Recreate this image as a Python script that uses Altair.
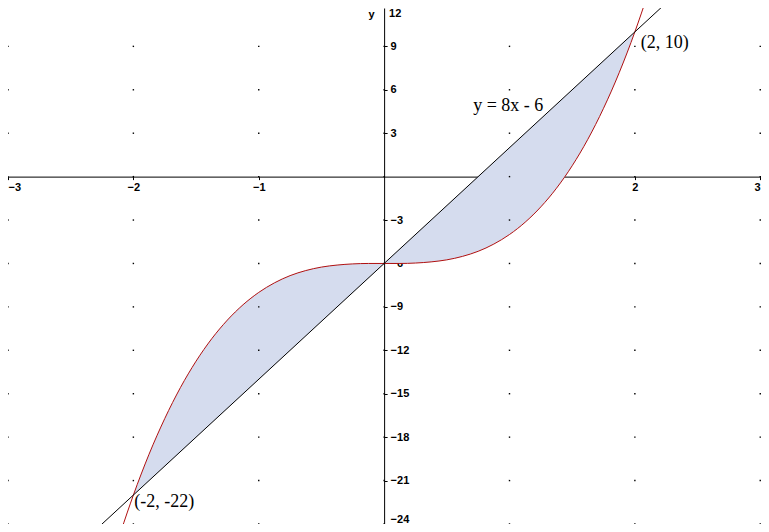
import altair as alt
import pandas as pd

# ---- data ----
curve_x = [-2.1, -2.0, -1.875, -1.75, -1.625, -1.5, -1.375, -1.25, -1.125, -1.0,
           -0.875, -0.75, -0.625, -0.5, -0.375, -0.25, -0.125, 0.0,
           0.125, 0.25, 0.375, 0.5, 0.625, 0.75, 0.875, 1.0,
           1.125, 1.25, 1.375, 1.5, 1.625, 1.75, 1.875, 2.0, 2.1]
curve_y = [-24.52, -22.0, -19.18, -16.72, -14.58, -12.75, -11.2, -9.91, -8.85, -8.0,
           -7.34, -6.84, -6.49, -6.25, -6.11, -6.03, -6.0, -6.0,
           -6.0, -5.97, -5.89, -5.75, -5.51, -5.16, -4.66, -4.0,
           -3.15, -2.09, -0.8, 0.75, 2.58, 4.72, 7.18, 10.0, 12.52]
line_x = [-2.3, 2.3]
line_y = [-24.4, 12.4]
area_x = curve_x[1:-1]
area_curve = curve_y[1:-1]
area_line = [-22.0, -21.0, -20.0, -19.0, -18.0, -17.0, -16.0, -15.0, -14.0, -13.0,
             -12.0, -11.0, -10.0, -9.0, -8.0, -7.0, -6.0,
             -5.0, -4.0, -3.0, -2.0, -1.0, 0.0, 1.0, 2.0,
             3.0, 4.0, 5.0, 6.0, 7.0, 8.0, 9.0, 10.0]
x_ticks = [-3, -2, -1, 1, 2, 3]
y_ticks = [-24, -21, -18, -15, -12, -9, -6, -3, 3, 6, 9, 12]
grid_x = [-3, -2, -1, 0, 1, 2, 3]
grid_y = [-24, -21, -18, -15, -12, -9, -6, -3, 0, 3, 6, 9, 12]
labels_text = ["(2, 10)", "(-2, -22)", "y = 8x - 6"]
labels_x = [2.0, -2.0, 0.71]
labels_y = [10.0, -22.0, 4.87]

W, H = 753, 516
XDOM = [-3.0, 3.006]
YDOM = [-24.0, 11.65]

xs = alt.Scale(domain=XDOM, nice=False, zero=False)
ys = alt.Scale(domain=YDOM, nice=False, zero=False)

# axis positions (through the origin)
x0_px = (0 - XDOM[0]) / (XDOM[1] - XDOM[0]) * W
y0_px = (YDOM[1] - 0) / (YDOM[1] - YDOM[0]) * H

label_expr = "datum.value == 0 ? '' : replace('' + datum.value, '-', '\u2212')"

x_axis = alt.Axis(orient="bottom", offset=-(H - y0_px), values=x_ticks, title=None,
                  grid=False, domainColor="black", tickColor="black", tickSize=3,
                  labelColor="black", labelFont="Liberation Sans", labelFontWeight="bold",
                  labelFontSize=11, labelPadding=2, labelExpr=label_expr,
                  labelFlush=2, labelOverlap=False)
y_axis = alt.Axis(orient="right", offset=-(W - x0_px), values=y_ticks, title=None,
                  grid=False, domainColor="black", tickColor="black", tickSize=3,
                  labelColor="black", labelFont="Liberation Sans", labelFontWeight="bold",
                  labelFontSize=11, labelPadding=3, labelExpr=label_expr,
                  labelFlush=2, labelOverlap=False, labelAlign="left")

area_df = pd.DataFrame({"x": area_x, "lo": area_curve, "hi": area_line})
curve_df = pd.DataFrame({"x": curve_x, "y": curve_y})
line_df = pd.DataFrame({"x": line_x, "y": line_y})
grid_df = pd.DataFrame([{"x": gx, "y": gy} for gx in grid_x for gy in grid_y])
lab_df = pd.DataFrame({"x": labels_x, "y": labels_y, "t": labels_text})

area = alt.Chart(area_df).mark_area(color="#d5dcee", opacity=1, interpolate="monotone", clip=True).encode(
    x=alt.X("x:Q", scale=xs, axis=x_axis),
    y=alt.Y("lo:Q", scale=ys, axis=y_axis),
    y2="hi:Q",
)

grid = alt.Chart(grid_df).mark_square(size=2, color="black", opacity=1, clip=True).encode(
    x=alt.X("x:Q", scale=xs), y=alt.Y("y:Q", scale=ys)
)

curve = alt.Chart(curve_df).mark_line(color="#b01010", strokeWidth=1, interpolate="monotone", clip=True).encode(
    x=alt.X("x:Q", scale=xs), y=alt.Y("y:Q", scale=ys)
)

line = alt.Chart(line_df).mark_line(color="black", strokeWidth=1, clip=True).encode(
    x=alt.X("x:Q", scale=xs), y=alt.Y("y:Q", scale=ys)
)

lab1 = alt.Chart(lab_df.iloc[[0]]).mark_text(
    font="Liberation Serif", fontSize=18, align="left", baseline="middle", dx=6, dy=11, color="black"
).encode(x=alt.X("x:Q", scale=xs), y=alt.Y("y:Q", scale=ys), text="t:N")

lab2 = alt.Chart(lab_df.iloc[[1]]).mark_text(
    font="Liberation Serif", fontSize=18, align="left", baseline="middle", dx=1, dy=7, color="black"
).encode(x=alt.X("x:Q", scale=xs), y=alt.Y("y:Q", scale=ys), text="t:N")

lab3 = alt.Chart(lab_df.iloc[[2]]).mark_text(
    font="Liberation Serif", fontSize=18, align="left", baseline="middle", color="black"
).encode(x=alt.X("x:Q", scale=xs), y=alt.Y("y:Q", scale=ys), text="t:N")

# axis name "y" and the top tick label "12", which sits at the upper edge
top_df = pd.DataFrame({"x": [-0.1, 0.0], "y": [11.65, 11.65], "t": ["y", "12"],
                       "a": ["center", "left"]})
ylab = alt.Chart(top_df.iloc[[0]]).mark_text(
    font="Liberation Sans", fontWeight="bold", fontSize=11, align="center", baseline="top", dy=1, color="black"
).encode(x=alt.X("x:Q", scale=xs), y=alt.Y("y:Q", scale=ys), text="t:N")
lab12 = alt.Chart(top_df.iloc[[1]]).mark_text(
    font="Liberation Sans", fontWeight="bold", fontSize=11, align="left", baseline="top", dx=5, dy=0, color="black"
).encode(x=alt.X("x:Q", scale=xs), y=alt.Y("y:Q", scale=ys), text="t:N")

chart = alt.layer(area, grid, curve, line, lab1, lab2, lab3, ylab, lab12).properties(
    width=W, height=H, padding=0, autosize=alt.AutoSizeParams(type="none"),
    background="white",
).configure_view(stroke=None)

chart.save("out.html", embed_options={"renderer": "svg", "actions": False})
